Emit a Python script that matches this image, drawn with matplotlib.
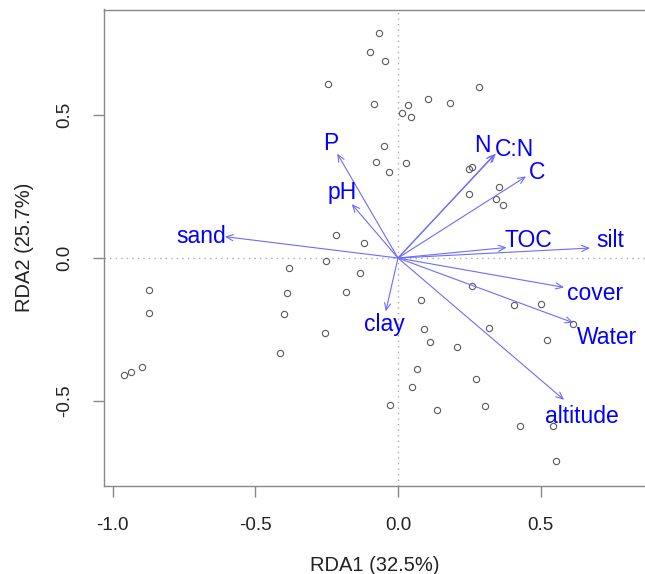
import matplotlib
matplotlib.use("Agg")
import matplotlib.pyplot as plt

plt.rcParams['font.family'] = ['Liberation Sans', 'DejaVu Sans']

# site scores
site_x = [-0.067, -0.098, -0.044, -0.244, -0.085, 0.105, 0.181, 0.035, 0.013, 0.044,
          -0.049, -0.076, 0.027, -0.032, -0.217, -0.120,
          0.283, 0.248, 0.261, 0.248, 0.354, 0.345, 0.368,
          -0.873, -0.873, -0.962, -0.935, -0.898, -0.398, -0.412,
          -0.253, -0.381, -0.133, -0.389, -0.182, -0.257, 0.079, 0.092, 0.111, 0.208,
          0.065, 0.048, -0.028, 0.137,
          0.261, 0.407, 0.500, 0.615, 0.318, 0.522, 0.273, 0.305, 0.429, 0.544, 0.553]
site_y = [0.788, 0.721, 0.689, 0.610, 0.540, 0.558, 0.543, 0.535, 0.509, 0.495,
          0.394, 0.335, 0.332, 0.300, 0.079, 0.053,
          0.600, 0.313, 0.318, 0.225, 0.248, 0.208, 0.186,
          -0.111, -0.192, -0.409, -0.400, -0.382, -0.196, -0.333,
          -0.009, -0.035, -0.054, -0.123, -0.119, -0.262, -0.146, -0.249, -0.293, -0.311,
          -0.390, -0.452, -0.514, -0.533,
          -0.097, -0.165, -0.160, -0.231, -0.244, -0.289, -0.425, -0.518, -0.589, -0.589, -0.713]

# environmental vectors
env_names = ['sand', 'P', 'pH', 'N', 'C:N', 'C', 'TOC', 'silt', 'cover', 'Water', 'altitude', 'clay']
env_x = [-0.607, -0.213, -0.162, 0.338, 0.343, 0.449, 0.381, 0.673, 0.582, 0.615, 0.582, -0.043]
env_y = [0.075, 0.366, 0.189, 0.363, 0.366, 0.286, 0.037, 0.035, -0.103, -0.227, -0.497, -0.187]
label_x = [-0.689, -0.234, -0.197, 0.296, 0.410, 0.486, 0.457, 0.743, 0.690, 0.731, 0.646, -0.046]
label_y = [0.075, 0.400, 0.228, 0.395, 0.380, 0.301, 0.062, 0.060, -0.125, -0.278, -0.555, -0.234]

xticks = [-1.0, -0.5, 0.0, 0.5]
yticks = [-0.5, 0.0, 0.5]

fig = plt.figure(figsize=(6.45, 5.74), dpi=100)
ax = fig.add_axes([104/645, 1-486/574, 1-104/645, (486-9.5)/574])
ax.set_xlim(-1.0305, 0.8658)
ax.set_ylim(-0.799, 0.871)

ax.axhline(0, color='#aaaaaa', lw=1, ls=(0, (1, 3)), zorder=1)
ax.axvline(0, color='#aaaaaa', lw=1, ls=(0, (1, 3)), zorder=1)

ax.plot(site_x, site_y, 'o', mfc='none', mec='#5a5a5a', ms=4.5, mew=0.8, zorder=2)

for ex, ey in zip(env_x, env_y):
    ax.annotate('', xy=(ex, ey), xytext=(0, 0),
                arrowprops=dict(arrowstyle='->,head_length=0.5,head_width=0.22',
                                color='#6c6cff', lw=0.8, shrinkA=0, shrinkB=0),
                zorder=3)
for name, lx, ly in zip(env_names, label_x, label_y):
    ax.text(lx, ly, name, color='#0000ff', fontsize=16.5, ha='center', va='center', zorder=4)

for s in ['left', 'bottom', 'top']:
    ax.spines[s].set_color('#888888')
    ax.spines[s].set_linewidth(1.0)
ax.spines['right'].set_visible(False)

ax.set_xticks(xticks)
ax.set_yticks(yticks)
ax.set_xticklabels([f'{t:.1f}' for t in xticks])
ax.set_yticklabels([f'{t:.1f}' for t in yticks], rotation=90, va='center')
ax.tick_params(axis='both', colors='#888888', length=8, width=1, labelsize=13.5,
               labelcolor='#222222', pad=14)
ax.set_xlabel('RDA1 (32.5%)', fontsize=14.5, color='#222222', labelpad=16)
ax.set_ylabel('RDA2 (25.7%)', fontsize=14.5, color='#222222', labelpad=16)

fig.savefig('out.png', dpi=100)
